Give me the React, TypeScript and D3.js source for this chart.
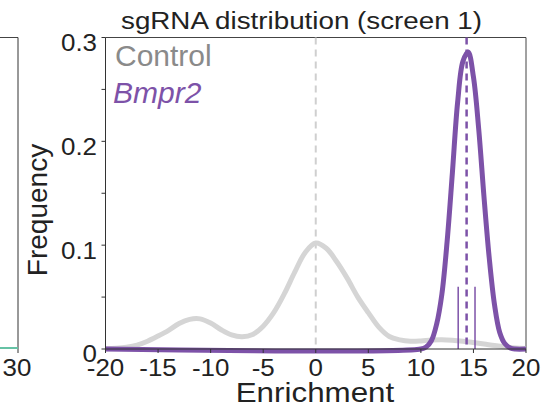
import React from "react";
import * as d3 from "d3";

const W = 542;
const H = 407;

// Data
const controlX = [-20,-19,-18,-17,-16,-15,-14,-13,-12,-11,-10,-9,-8,-7,-6,-5,-4,-3,-2,-1,0,1,2,3,4,5,6,7,8,9,10,11,12,13,14,15,16,17,18,19,20];
const controlY = [0.0003,0.0008,0.0018,0.0038,0.0075,0.0125,0.018,0.0245,0.0285,0.029,0.025,0.0185,0.0135,0.0118,0.014,0.022,0.035,0.053,0.074,0.093,0.102,0.097,0.084,0.068,0.050,0.035,0.021,0.012,0.0088,0.0075,0.0078,0.0087,0.009,0.0085,0.0075,0.0062,0.0048,0.0033,0.002,0.001,0.0005];
const bmprX = [-20,10,10.5,11,11.5,12,12.5,13,13.5,14,14.5,15,15.5,16,16.5,17,17.5,18,18.5,19,20];
const bmprY = [0,0,0.002,0.008,0.024,0.053,0.104,0.170,0.238,0.277,0.286,0.262,0.212,0.147,0.088,0.043,0.016,0.005,0.001,0,0];
const bmprGuides = [13.55, 15.15];
const bmprMean = 14.35;
const controlMean = 0;
const xTicks = [-20,-15,-10,-5,0,5,10,15,20];
const yTicks = [0, 0.1, 0.2, 0.3];
const yMinor = [0.05, 0.15, 0.25];
const yTickLabels = ["0", "0.1", "0.2", "0.3"];
const title = "sgRNA distribution (screen 1)";
const legendNames = ["Control", "Bmpr2"];

const PURPLE = "#7d52a8";
const GRAY_LINE = "#d5d5d5";
const FONT = "'Liberation Sans', Arial, Helvetica, sans-serif";

export default function App() {
  const left = 105.5, right = 526, top = 37.5, bottom = 349;
  const x = d3.scaleLinear().domain([-20, 20]).range([left, right]);
  const y = d3.scaleLinear().domain([0, 0.3]).range([bottom, top]);

  const line = d3.line<[number, number]>()
    .x(d => x(d[0]))
    .y(d => y(d[1]))
    .curve(d3.curveCatmullRom.alpha(0.5));

  const ctrlPts = controlX.map((v, i) => [v, controlY[i]] as [number, number]);
  const bmprPts = bmprX.map((v, i) => [v, bmprY[i]] as [number, number]);

  const sx = (cx: number, s: number) => `translate(${cx},0) scale(${s},1) translate(${-cx},0)`;

  return (
    <svg width={W} height={H} style={{ position: "absolute", left: 0, top: 0, background: "#fff" }} fontFamily={FONT}>
      {/* left partial panel */}
      <line x1={0} x2={18} y1={top} y2={top} stroke="#444" strokeWidth={1} />
      <line x1={18} x2={18} y1={top} y2={bottom + 4} stroke="#333" strokeWidth={1} />
      <line x1={0} x2={18} y1={bottom - 1} y2={bottom - 1} stroke="#66c2a5" strokeWidth={2} />
      <text x={17} y={376} fontSize={24} textAnchor="middle" fill="#222" transform={sx(17, 1.08)}>30</text>

      {/* frame */}
      <line x1={left} x2={right} y1={top} y2={top} stroke="#444" strokeWidth={1} />
      <line x1={right} x2={right} y1={top} y2={bottom} stroke="#444" strokeWidth={1} />

      {/* dashed means */}
      <line x1={x(controlMean)} x2={x(controlMean)} y1={top} y2={bottom} stroke="#cfcfcf" strokeWidth={2} strokeDasharray="7,5" />

      {/* curves */}
      <path d={line(ctrlPts) || ""} fill="none" stroke={GRAY_LINE} strokeWidth={5} strokeLinejoin="round" />
      <path d={line(bmprPts) || ""} fill="none" stroke={PURPLE} strokeWidth={5} strokeLinejoin="round" />

      <line x1={x(bmprMean)} x2={x(bmprMean)} y1={top} y2={bottom} stroke={PURPLE} strokeWidth={2.5} strokeDasharray="7,5" />
      {bmprGuides.map((g, i) => (
        <line key={i} x1={x(g)} x2={x(g)} y1={bottom} y2={y(0.06)} stroke={PURPLE} strokeWidth={1.5} />
      ))}

      {/* axes */}
      <line x1={left} x2={left} y1={top} y2={bottom} stroke="#333" strokeWidth={1} />
      <line x1={left} x2={right} y1={bottom} y2={bottom} stroke="#333" strokeWidth={1} />
      {yTicks.map((t, i) => (
        <g key={"y" + i}>
          <line x1={left - 4} x2={left} y1={y(t)} y2={y(t)} stroke="#333" />
          <text x={97} y={y(t) + 13.5} fontSize={24} textAnchor="end" fill="#222" transform={sx(97, 1.08)}>{yTickLabels[i]}</text>
        </g>
      ))}
      {yMinor.map((t, i) => (
        <line key={"m" + i} x1={left - 4} x2={left} y1={y(t)} y2={y(t)} stroke="#333" />
      ))}
      {xTicks.map((t, i) => (
        <g key={"x" + i}>
          <line x1={x(t)} x2={x(t)} y1={bottom} y2={bottom + 4} stroke="#333" />
          <text x={x(t)} y={376} fontSize={24} textAnchor="middle" fill="#222" transform={sx(x(t), 1.08)}>{t}</text>
        </g>
      ))}

      {/* labels */}
      <text x={315} y={402} fontSize={28} textAnchor="middle" fill="#222" transform={sx(315, 1.12)}>Enrichment</text>
      <text transform="translate(47,210) rotate(-90)" fontSize={28} textAnchor="middle" fill="#222">Frequency</text>
      <text x={121} y={28.5} fontSize={23} fill="#222" textLength={361} lengthAdjust="spacingAndGlyphs">{title}</text>

      {/* legend */}
      <text x={115} y={66} fontSize={30} fill="#8a8a8a">{legendNames[0]}</text>
      <text x={113} y={103} fontSize={30} fontStyle="italic" fill={PURPLE}>{legendNames[1]}</text>
    </svg>
  );
}
